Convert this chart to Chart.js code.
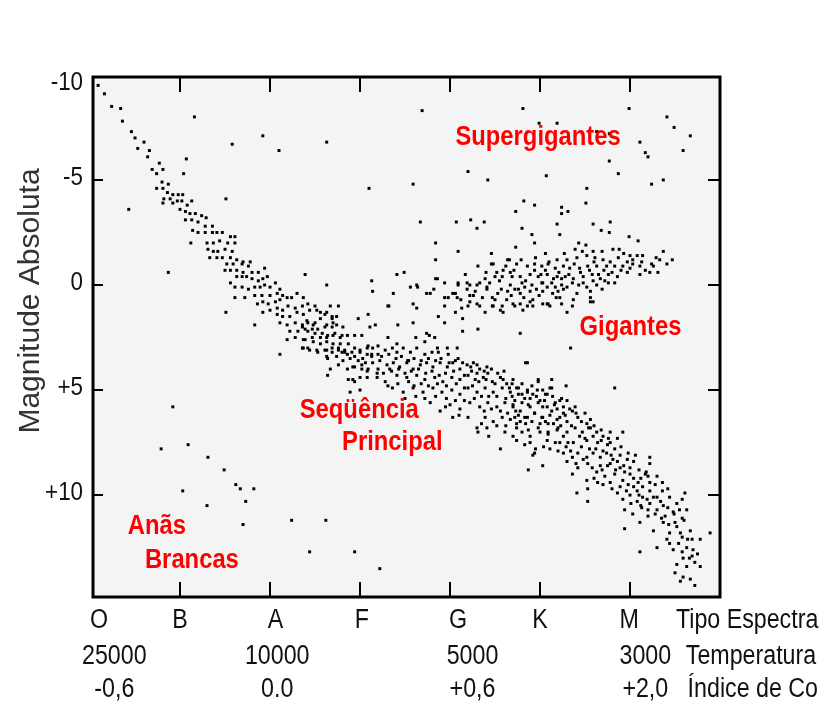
<!DOCTYPE html>
<html>
<head>
<meta charset="utf-8">
<title>Diagrama H-R</title>
<script src="https://cdn.jsdelivr.net/npm/chart.js@4.4.1/dist/chart.umd.min.js"></script>
<style>
  html, body { margin:0; padding:0; background:#fff; }
  canvas { display:block; }
</style>
</head>
<body>
<canvas id="hr" width="819" height="722"></canvas>
<script>
// every star is [spectral subclass, absolute magnitude]
// subclass: O0 = 0, B0 = 10, A0 = 20, F0 = 30, G0 = 40, K0 = 50, M0 = 60

var mainSequence = [
  [0.9,-9.5],[1.6,-9.1],[2.4,-8.5],[3.4,-8.4],[3.6,-7.8],[4.6,-7.3],[5.0,-7.0],[6.0,-6.8],[5.3,-6.5],[6.6,-6.4],
  [6.4,-6.1],[7.7,-5.8],[6.9,-5.5],[8.1,-5.5],[7.4,-5.3],
  [8.0,-4.9],[8.7,-4.8],[7.4,-4.6],[8.1,-4.6],[8.6,-4.4],[9.2,-4.3],[9.8,-4.3],[10.3,-4.3],[8.2,-4.1],[8.9,-4.1],
  [9.7,-4.0],[8.1,-3.9],[9.2,-3.9],[10.0,-3.6],[11.3,-4.0],
  [10.2,-4.0],[10.8,-3.8],[10.6,-3.5],[11.1,-3.4],[11.7,-3.4],[12.4,-3.3],[12.9,-3.2],[10.6,-3.1],[11.3,-3.1],[12.0,-3.0],
  [12.8,-2.8],[13.6,-2.8],[11.4,-2.6],[12.0,-2.5],[12.8,-2.5],[13.6,-2.5],[14.1,-2.5],[14.7,-2.5],[13.0,-2.0],[13.7,-2.0],
  [14.4,-2.1],[15.6,-2.3],[16.1,-2.3],[15.3,-2.0],[16.1,-2.0],[13.1,-1.7],[13.7,-1.6],[14.2,-1.6],[15.0,-1.7],[15.8,-1.6],
  [13.3,-1.3],[14.1,-1.3],[14.7,-1.3],[15.6,-1.3],[16.3,-1.2],[17.0,-1.1],[17.8,-1.1],[15.2,-1.0],[15.9,-1.0],[16.9,-1.0],
  [17.6,-0.9],[15.0,-0.7],[15.6,-0.7],[16.3,-0.7],[17.0,-0.6],[18.0,-0.6],[18.7,-0.6],[19.4,-0.8],[15.6,-0.1],[16.3,-0.4],
  [16.9,-0.4],[17.4,-0.4],[18.0,-0.3],[18.7,-0.2],[19.2,-0.3],[19.7,-0.4],[16.1,0.1],[16.9,0.1],[17.6,0.2],[18.3,0.1],
  [18.9,0.1],[19.4,0.0],[20.0,0.1],[20.6,-0.1],[16.1,0.6],[17.2,0.6],[18.3,0.5],[19.1,0.5],[20.0,0.5],[20.8,0.4],
  [21.1,0.2],[21.4,0.5],[18.6,0.9],[19.2,0.8],[19.8,0.9],[20.6,0.8],[21.1,0.7],[21.9,0.6],[22.4,0.6],[23.0,0.4],
  [23.7,0.6],[19.2,1.3],[20.0,1.2],[20.8,1.1],[21.4,1.2],[22.0,1.0],[22.8,1.1],[23.6,1.0],[24.2,0.9],[20.8,1.4],
  [21.4,1.5],[22.2,1.5],[23.0,1.3],[23.7,1.4],[24.4,1.2],[25.2,1.2],[18.3,1.9],[21.1,1.8],[21.9,1.9],[22.8,1.8],
  [23.6,1.9],[24.2,1.8],[25.0,1.8],[25.6,1.6],[26.1,1.4],[26.9,1.5],[22.2,2.2],[23.1,2.2],[23.9,2.1],[24.7,2.1],
  [25.3,2.1],[26.1,2.0],[26.9,2.0],[27.4,1.9],[28.1,2.0],[21.9,2.6],[22.8,2.5],[23.7,2.6],[24.7,2.5],[25.6,2.5],
  [26.3,2.5],[27.0,2.4],[27.8,2.5],[28.6,2.4],[29.4,2.4],[30.2,2.4],[21.1,3.3],[23.7,3.0],[24.4,3.1],[25.3,3.2],
  [26.3,3.1],[26.9,3.0],[27.6,3.0],[28.3,3.1],[29.1,3.2],[30.0,3.1],[30.8,3.0],[31.4,3.0],[26.3,3.4],[27.4,3.4],
  [28.6,3.3],[29.4,3.4],[30.3,3.5],[31.3,3.4],[32.0,3.3],[26.7,4.0],[27.6,3.8],[28.6,4.0],[29.4,3.9],[30.0,4.4],
  [30.8,4.1],[31.9,4.2],[26.4,4.3],[29.2,4.5],[26.7,1.0],[27.6,1.0],
  [25.0,1.0],[25.6,1.3],[26.3,1.3],[26.9,1.6],[27.4,1.5],[24.1,1.7],[24.8,1.9],[26.3,1.9],[27.0,1.8],[23.6,2.0],
  [24.2,2.2],[25.0,2.3],[25.8,2.3],[26.4,2.4],[27.2,2.3],[28.0,2.4],[23.9,2.6],[24.8,2.7],[25.6,2.8],[26.3,2.7],
  [27.0,2.8],[27.8,2.8],[28.7,2.8],[29.4,3.0],[25.2,3.1],[26.1,3.1],[26.9,3.2],[27.6,3.1],[28.3,3.2],[30.0,3.2],
  [30.8,3.3],[24.2,3.0],[23.6,3.0],[26.4,3.5],[28.1,3.6],[28.9,3.5],[29.8,3.6],[30.6,3.7],[29.2,3.9],[30.2,4.0],
  [30.9,4.0],[28.7,4.5],[29.4,4.6],[30.8,4.4],[28.9,5.1],[30.0,5.0],[30.9,2.9],[28.0,3.2],[30.2,3.8],
  [31.3,3.3],[32.0,2.9],[32.8,3.1],[33.6,3.0],[34.1,3.2],[34.8,3.0],[35.6,3.2],[36.3,3.0],[37.2,3.3],[38.0,3.2],
  [38.7,3.2],[39.8,3.3],[40.9,3.5],[39.7,3.0],[38.6,3.0],
  [31.4,3.7],[32.2,3.6],[33.0,3.8],[33.7,3.7],[34.4,3.9],[35.2,3.7],[35.9,4.0],[36.7,3.8],[37.4,3.7],[38.1,3.9],
  [38.9,3.7],[39.7,3.9],[40.3,3.7],[41.1,4.0],[41.9,3.8],[42.6,3.7],[43.3,4.0],[44.1,3.9],[32.0,4.0],[33.3,4.0],
  [31.9,4.4],[32.8,4.6],[34.1,4.3],[35.2,4.4],[36.3,4.3],[37.2,4.5],[38.3,4.4],[39.2,4.6],[40.2,4.4],[41.1,4.5],
  [42.0,4.3],[42.8,4.5],[43.7,4.4],[44.7,4.6],[45.6,4.4],[46.3,4.7],[44.2,4.2],[43.0,4.2],
  [33.6,4.9],[34.8,5.1],[35.9,4.9],[37.0,5.1],[38.1,4.9],[39.1,5.1],[40.2,5.0],[41.1,5.2],[42.0,4.9],[43.0,5.1],
  [43.9,4.9],[44.8,5.1],[45.8,4.9],[46.7,5.1],[37.8,5.6],
  [38.9,6.0],[40.0,5.7],[41.1,5.9],[42.2,5.6],[43.3,5.8],[44.2,5.6],[45.2,5.8],[46.1,5.6],
  [40.3,6.3],[43.0,6.8],[43.9,6.3],[44.8,6.5],[45.8,6.3],[46.7,6.4],[43.1,7.0],[45.6,7.8],[44.1,6.8],[49.4,8.0],
  [32.4,3.4],[33.2,3.3],[34.0,3.5],[34.6,3.4],[35.4,3.6],[36.0,3.5],[36.8,3.6],[37.6,3.5],[38.4,3.6],[39.0,3.5],
  [39.9,3.7],[40.6,3.6],[41.4,3.7],[42.3,3.9],[43.0,3.8],[43.8,4.1],[44.6,4.0],[45.3,4.2],[46.0,4.1],
  [32.6,4.2],[33.5,4.1],[34.3,4.0],[35.0,4.2],[35.7,4.1],[36.5,4.0],[37.3,4.2],[38.0,4.1],[38.8,4.3],[39.5,4.2],
  [40.4,4.1],[41.6,4.3],[42.4,4.1],[43.2,4.6],[44.0,4.5],[45.0,4.7],[45.9,4.5],[46.6,4.9],
  [33.1,4.8],[34.2,4.7],[35.4,4.6],[36.0,4.8],[36.8,4.7],[37.6,4.8],[38.6,4.7],[39.6,4.8],[40.7,4.7],[41.6,4.9],
  [42.5,4.8],[43.5,5.3],[44.3,5.3],[45.2,5.3],[46.2,5.4],[47.2,5.5],
  [35.0,5.4],[36.2,5.3],[37.2,5.4],[38.4,5.3],[39.6,5.4],[40.6,5.5],[41.6,5.5],[42.7,5.4],[43.8,6.0],[44.6,5.9],
  [45.6,6.0],[46.4,6.1],[47.3,6.0],[39.5,5.8],[41.0,6.2],[42.0,6.3],[43.5,6.6],[45.2,6.7],[46.2,6.7],[47.4,6.6],
  [44.3,7.2],[46.1,7.0],
  [47.0,4.5],[47.6,4.9],[48.6,5.1],[49.7,5.0],[50.6,5.2],[51.3,4.9],[47.0,5.7],[48.0,5.6],[48.9,5.8],[49.8,5.6],
  [50.8,5.8],[51.7,5.6],[52.6,5.8],[53.0,5.5],[47.6,6.2],[48.6,6.3],[49.4,6.1],[50.3,6.3],[51.3,6.0],[52.2,6.3],
  [53.0,6.5],[50.9,6.6],[48.0,7.0],[48.9,7.2],[50.0,7.0],[50.9,7.1],[51.9,6.9],[52.6,7.2],[51.7,7.5],[53.1,7.5],
  [47.0,7.2],
  [46.9,4.7],[47.4,4.9],[48.0,4.7],[48.6,5.0],[49.1,4.8],[49.8,4.6],[50.3,5.0],[51.1,4.9],[51.4,5.3],[46.9,5.3],
  [47.6,5.2],[48.3,5.4],[49.2,5.2],[50.0,5.5],[50.8,5.2],[52.2,5.5],[51.3,4.5],[52.6,6.1],
  [47.0,5.8],[47.8,6.0],[48.7,5.7],[49.4,6.1],[50.3,5.8],[51.1,6.2],[51.9,5.9],[52.8,6.2],[53.6,6.0],[54.2,6.3],
  [55.0,6.1],[55.6,6.4],[47.2,6.3],[48.3,6.3],[50.2,6.3],[51.9,6.4],[53.9,5.8],[55.2,6.6],
  [47.4,6.8],[48.7,6.9],[49.8,6.8],[50.9,7.0],[52.0,6.8],[53.0,7.0],[53.9,6.8],[54.7,7.0],[55.6,6.8],[56.3,7.0],
  [57.0,7.2],[57.8,7.0],[58.6,7.3],[47.4,7.4],[48.9,7.5],[50.8,7.4],[52.2,7.5],[53.7,7.5],[55.2,7.4],[56.4,7.5],
  [57.8,7.5],[59.2,7.0],
  [49.2,8.1],[50.3,8.6],[52.6,8.0],[53.6,8.2],[54.2,8.0],[55.2,8.2],[55.9,8.0],[56.7,8.2],[57.4,8.0],[58.1,8.3],
  [58.9,8.1],[59.7,8.3],[54.2,8.7],[55.3,8.5],[56.7,8.6],[57.8,8.5],[58.9,8.7],[60.0,8.7],[62.2,8.2],[62.2,8.5],
  [48.7,8.8],
  [53.6,9.0],[55.2,9.3],[56.3,8.9],[57.2,9.1],[58.3,9.0],[59.2,9.3],[60.0,9.0],[60.9,9.4],[61.7,9.0],[62.2,9.4],
  [63.0,9.1],[57.8,9.4],[59.8,9.5],[61.4,9.6],[54.1,9.9],[55.3,9.7],[56.4,9.4],
  [58.6,9.9],[59.2,10.2],[60.0,10.0],[60.8,10.3],[61.4,10.1],[62.2,10.4],[63.0,10.1],[63.7,10.5],[64.4,10.1],[65.2,10.4],
  [66.1,9.9],[55.3,10.3],[63.6,9.8],[62.2,9.8],[60.8,9.8],[65.8,10.2],
  [59.4,10.7],[60.3,10.9],[61.3,10.6],[62.0,11.0],[63.0,10.7],[63.9,11.0],[64.8,10.8],[65.8,11.1],[66.3,10.7],[59.4,11.6],
  [61.1,11.3],[62.6,11.7],[63.7,11.3],[65.2,11.5],[66.7,11.7],
  [63.0,12.5],[64.1,12.1],[64.8,12.6],[65.8,12.0],[66.3,12.5],[66.9,12.1],[67.8,12.1],[68.9,11.8],[61.1,12.7],[64.4,11.8],
  [65.9,13.0],[66.9,12.9],[65.2,13.3],[66.3,13.4],[67.2,13.2],[67.8,13.4],[65.0,13.7],[65.9,13.9],[66.7,14.0],[65.6,14.1],
  [67.2,14.3],
  [48.0,5.2],[48.9,5.4],[49.6,5.3],[50.5,5.5],[51.6,5.7],[52.4,5.4],[53.3,5.9],[54.0,6.1],[54.6,6.5],[55.4,6.8],
  [56.0,6.7],[56.8,6.9],[57.6,7.3],
  [47.8,6.5],[48.4,6.6],[49.1,6.5],[50.0,6.6],[50.6,6.5],[51.5,6.6],[52.3,6.7],[53.5,6.7],[54.4,7.2],[55.0,7.3],
  [55.9,7.2],[56.8,7.4],[57.5,7.6],[58.3,7.8],[59.0,7.7],[59.8,8.0],[60.6,8.1],
  [48.3,7.6],[49.5,7.8],[50.4,7.7],[51.1,7.8],[52.0,7.9],[52.9,7.7],[53.4,7.9],[54.6,7.7],[55.5,7.8],[56.2,7.8],
  [57.0,7.9],[57.9,8.1],[58.6,8.4],[59.3,8.6],[60.4,8.4],[61.0,8.8],[61.8,8.9],
  [53.0,8.4],[54.0,8.5],[54.8,8.3],[55.8,8.7],[56.9,8.8],[57.5,8.6],[58.4,8.8],[59.4,8.9],[60.4,9.2],[61.2,9.2],
  [62.0,9.1],[62.8,9.5],[63.6,9.4],[64.2,9.7],
  [56.0,9.2],[57.0,9.5],[58.0,9.7],[58.9,9.6],[59.6,9.8],[60.4,9.6],[61.0,10.0],[61.9,10.2],[62.6,10.1],[63.4,10.3],
  [64.2,10.6],[64.9,10.9],[65.5,10.7],[66.0,11.2],
  [60.1,10.4],[61.2,10.5],[62.0,10.7],[62.8,10.9],[63.5,11.1],[64.3,11.4],[65.0,11.3],[65.6,11.8],[66.4,12.1],[67.0,12.6],
  [65.4,12.3],[64.4,12.3],[66.6,13.0],[67.5,12.8],[65.8,12.7]
];

var giants = [
  [38.4,-0.3],[38.2,0.2],[39.4,-0.1],[41.7,-0.5],[43.1,-0.9],[44.8,-1.0],[45.2,-0.6],[45.8,-0.4],[46.6,-1.2],
  [54.3,-2.0],[55.1,-1.9],
  [53.9,-1.7],[54.7,-1.6],[55.9,-1.6],[56.9,-1.6],[58.1,-1.7],[58.8,-1.7],[59.3,-1.5],[60.0,-1.4],[60.8,-1.4],
  [61.4,-1.4],[63.7,-1.6],[52.7,-1.5],
  [47.4,-1.0],[44.6,-1.0],[49.4,-1.0],[50.9,-1.0],[51.9,-1.2],[53.0,-1.2],[54.1,-1.3],[55.2,-1.4],[56.1,-1.3],[57.0,-1.2],
  [57.8,-1.1],[58.7,-1.3],[59.7,-1.1],[60.3,-1.2],[61.3,-1.1],[62.4,-1.0],[63.3,-1.2],[64.1,-1.0],
  [45.9,-0.7],[46.7,-0.6],[48.6,-0.9],[49.4,-0.7],[50.2,-0.9],[50.6,-0.7],[51.7,-0.8],[52.6,-0.9],[53.3,-0.8],[54.4,-0.8],
  [55.3,-0.9],[56.3,-0.9],[57.4,-0.9],[58.3,-0.9],[59.2,-0.9],[60.3,-1.0],[61.1,-0.9],[62.6,-0.9],[63.1,-0.6],
  [45.0,-0.4],[46.9,-0.4],[47.8,-0.4],[48.9,-0.5],[49.8,-0.4],[50.8,-0.5],[51.9,-0.4],[52.8,-0.4],[53.7,-0.3],[54.8,-0.4],
  [55.8,-0.5],[56.7,-0.3],[57.6,-0.5],[58.6,-0.4],[59.7,-0.6],[61.1,-0.5],[62.2,-0.6],
  [40.9,-0.1],[42.2,0.0],[43.3,-0.1],[44.4,-0.1],[46.7,0.0],[48.0,-0.1],[49.1,0.0],[50.2,-0.1],[51.3,-0.1],[52.4,0.0],
  [53.6,-0.1],[54.8,-0.1],[55.9,-0.2],[57.2,-0.2],[58.3,-0.1],
  [37.4,0.4],[39.4,0.6],[40.6,0.4],[41.9,0.2],[42.6,0.5],[44.1,0.2],[45.3,0.4],[46.4,0.3],[47.8,0.4],[48.9,0.3],
  [50.3,0.3],[51.4,0.4],[52.6,0.2],[54.1,0.4],[55.6,0.3],[56.9,0.2],
  [39.4,1.0],[40.8,0.6],[42.2,0.8],[43.6,0.6],[44.8,1.0],[46.3,0.7],[47.8,0.9],[49.2,0.7],[50.9,0.9],[52.2,0.6],
  [53.7,0.7],[55.6,0.6],[55.9,0.8],
  [44.0,-0.6],[45.5,-0.2],[46.2,-0.9],[47.1,-0.7],[47.9,-1.2],[48.4,-0.2],[49.5,-1.3],[50.1,-0.5],[51.0,-1.1],[51.5,-0.3],
  [52.1,-0.6],[53.2,-0.5],[53.8,-1.0],[54.5,-0.6],[55.5,-0.7],[56.0,-1.1],[56.5,-0.5],[57.1,-0.7],[58.0,-0.6],[59.0,-0.7],
  [60.0,-0.8],[61.7,-0.7],[62.9,-1.3],[64.7,-1.2],
  [42.8,0.3],[43.9,-0.3],[45.7,0.2],[47.2,0.2],[48.3,0.1],[49.6,0.2],[50.8,0.1],[52.0,0.3],[53.0,0.1],[54.3,0.0],
  [55.2,0.1],[56.3,0.0],[57.6,-0.1],[41.2,0.7],[43.0,0.9],[45.0,0.7],[46.8,0.5],[48.2,0.6],[49.9,0.5],[51.8,0.6],
  [47.8,2.3],[48.6,3.7],[43.1,2.1],[41.4,2.2],[37.7,2.4],[40.8,3.0],[35.9,1.8],[38.7,1.5],[39.4,1.8],[33.1,1.0],
  [34.2,1.9],[35.9,0.9],[36.4,0.1],[37.8,0.4],[38.6,-0.3],[39.8,0.6],[40.3,0.4],[40.9,0.0],[41.9,-0.1],[42.2,0.5],
  [43.0,0.0],[44.1,0.1],[44.7,0.6],[45.8,1.0],[45.9,1.3],[47.0,0.9],[47.6,0.2],[48.6,1.0],[50.8,0.9],[50.3,-0.1],
  [51.7,0.1],[52.4,-0.3],
  [33.2,1.0],[36.3,1.1],[40.6,1.3],[41.3,1.1],[42.0,1.0],[43.3,1.0],[43.9,1.3],[44.7,1.0],[45.6,1.2],[41.4,1.6],
  [37.4,2.3],[38.3,2.5],[37.2,2.7],[36.2,2.5],[31.7,1.9],[31.1,2.0],[29.8,1.6],[30.9,1.4],[33.1,2.5],[34.1,2.8],
  [35.3,3.6],
  [48.1,1.2],[49.2,1.0],[51.1,1.0],[52.4,0.9],[53.6,1.0],[55.6,0.8],[47.2,1.0],[48.9,0.8],[50.3,0.9],[53.0,1.3],
  [53.4,3.0],[48.4,3.7],[58.3,4.9],[52.9,4.8],[49.8,4.5]
];

var upperStars = [
  [11.6,-8.0],[15.8,-6.7],[19.2,-7.1],[21.0,-6.4],[10.7,-6.0],[10.4,-5.3],[15.1,-4.1],[4.3,-3.6],[11.2,-2.0],[8.7,-0.6],
  [36.9,-8.3],[26.3,-6.8],[31.0,-4.6],[35.9,-4.8],[42.0,-5.4],[44.2,-5.0],[36.7,-3.0],[40.7,-3.0],[42.3,-3.1],[43.8,-3.0],
  [43.0,-2.7],[38.4,-2.0],[40.9,-1.6],[38.4,-1.2],[44.6,-1.5],[46.4,-1.2],[23.9,-0.5],[26.3,0.0],[31.3,-0.2],[31.4,0.3],
  [34.1,-0.5],[34.9,-0.6],[33.7,0.4],[35.6,0.1],[36.3,0.0],
  [48.1,-8.4],[49.9,-7.7],[51.9,-7.7],[59.9,-8.4],[64.1,-8.0],[64.9,-7.5],[66.7,-7.1],[56.3,-7.3],[57.7,-7.2],[61.1,-6.8],
  [61.7,-6.3],[62.0,-6.1],[65.9,-6.4],[57.7,-5.9],[58.7,-5.3],[50.7,-5.2],[63.7,-5.0],[62.4,-4.8],[55.2,-4.6],[55.1,-3.9],
  [48.2,-4.0],[49.4,-3.8],[47.3,-3.5],[52.4,-3.7],[52.4,-3.4],[53.1,-3.5],[48.0,-2.7],[49.1,-2.4],[51.9,-2.9],[52.2,-2.4],
  [55.9,-2.9],[56.8,-2.6],[57.8,-3.0],[57.7,-2.5],[59.9,-2.3],[60.9,-2.1],[49.4,-2.0],[47.3,-1.8],[50.6,-1.5],
  [15.1,1.3]
];

var whiteDwarfs = [
  [9.2,5.8],[7.9,7.8],[10.9,7.6],[13.1,8.2],[14.9,8.8],[16.2,9.5],[16.7,9.7],[18.2,9.7],[17.3,10.3],[10.3,9.8],
  [13.0,10.5],[17.0,11.4],[22.4,11.2],[26.2,11.2],[24.4,12.7],[29.4,12.7],[32.2,13.5]
];

// axis ticks and the three label rows under the frame
var classTicks = [10, 20, 30, 40, 50, 60];
var spectralLabels = ['O', 'B', 'A', 'F', 'G', 'K', 'M'];
var spectralPos = [1.0, 10, 20.6, 30.2, 40.9, 50, 59.9];
var tempLabels = ['25000', '10000', '5000', '3000'];
var colorLabels = ['-0,6', '0.0', '+0,6', '+2,0'];
var tempPos = [2.7, 20.8, 42.5, 61.7];
var magTicks = [-10, -5, 0, 5, 10];
var magLabels = ['-10', '-5', '0', '+5', '+10'];
var rowTitles = ['Tipo Espectral', 'Temperatura', 'Índice de Cor'];
var rowTitlePos = [65.1, 66.2, 66.4];

// region names written inside the frame (left edge, vertical middle)
var regionText = ['Supergigantes', 'Gigantes', 'Seqüência', 'Principal', 'Anãs', 'Brancas'];
var regionX = [40.6, 54.4, 23.3, 28.0, 4.2, 6.1];
var regionY = [-7.05, 2.0, 5.95, 7.5, 11.5, 13.1];

var FAMILY = '"Liberation Sans", Arial, sans-serif';

function squeezedText(ctx, text, x, y, squeeze) {
  ctx.save();
  ctx.translate(x, y);
  ctx.scale(squeeze, 1);
  ctx.fillText(text, 0, 0);
  ctx.restore();
}

var hrFrame = {
  id: 'hrFrame',
  beforeDatasetsDraw: function(chart) {
    var a = chart.chartArea, ctx = chart.ctx;
    ctx.save();
    ctx.fillStyle = '#f4f4f4';
    ctx.fillRect(a.left, a.top, a.right - a.left, a.bottom - a.top);
    ctx.restore();
  },
  afterDatasetsDraw: function(chart) {
    var a = chart.chartArea, ctx = chart.ctx;
    var xs = chart.scales.x, ys = chart.scales.y;
    ctx.save();

    // inward tick marks
    ctx.strokeStyle = '#000';
    ctx.lineWidth = 2;
    classTicks.forEach(function(v) {
      var px = Math.round(xs.getPixelForValue(v));
      ctx.beginPath();
      ctx.moveTo(px, a.top); ctx.lineTo(px, a.top + 15);
      ctx.moveTo(px, a.bottom); ctx.lineTo(px, a.bottom - 15);
      ctx.stroke();
    });
    magTicks.forEach(function(v) {
      if (v <= ys.min || v >= ys.max) return;
      var py = Math.round(ys.getPixelForValue(v));
      ctx.beginPath();
      ctx.moveTo(a.left, py); ctx.lineTo(a.left + 10, py);
      ctx.moveTo(a.right, py); ctx.lineTo(a.right - 12, py);
      ctx.stroke();
    });
    ctx.lineWidth = 3;
    ctx.strokeRect(a.left, a.top, a.right - a.left, a.bottom - a.top);

    // region names
    ctx.fillStyle = '#ff0000';
    ctx.font = 'bold 28px ' + FAMILY;
    ctx.textAlign = 'left';
    ctx.textBaseline = 'middle';
    regionText.forEach(function(t, i) {
      squeezedText(ctx, t, xs.getPixelForValue(regionX[i]), ys.getPixelForValue(regionY[i]), 0.85);
    });
    ctx.restore();
  },
  afterDraw: function(chart) {
    var a = chart.chartArea, ctx = chart.ctx;
    var xs = chart.scales.x, ys = chart.scales.y;
    ctx.save();
    ctx.fillStyle = '#111';
    ctx.textBaseline = 'middle';

    // magnitude labels
    ctx.font = '26px ' + FAMILY;
    ctx.textAlign = 'right';
    magTicks.forEach(function(v, i) {
      var py = Math.max(ys.getPixelForValue(v) - 2, a.top + 6);
      squeezedText(ctx, magLabels[i], a.left - 10, py, 0.86);
    });

    // spectral type, temperature and colour index rows
    ctx.font = '27px ' + FAMILY;
    ctx.textAlign = 'center';
    var rowY = [a.bottom + 24, a.bottom + 60, a.bottom + 93];
    spectralLabels.forEach(function(t, i) {
      squeezedText(ctx, t, xs.getPixelForValue(spectralPos[i]), rowY[0], 0.86);
    });
    tempLabels.forEach(function(t, i) {
      squeezedText(ctx, t, xs.getPixelForValue(tempPos[i]), rowY[1], 0.86);
      squeezedText(ctx, colorLabels[i], xs.getPixelForValue(tempPos[i]), rowY[2], 0.86);
    });
    ctx.textAlign = 'left';
    rowTitles.forEach(function(t, i) {
      squeezedText(ctx, t, xs.getPixelForValue(rowTitlePos[i]), rowY[i], 0.86);
    });

    // vertical axis title
    ctx.fillStyle = '#333';
    ctx.font = '30px ' + FAMILY;
    ctx.textAlign = 'center';
    ctx.translate(31, 301);
    ctx.rotate(-Math.PI / 2);
    ctx.fillText('Magnitude Absoluta', 0, 0);
    ctx.restore();
  }
};

function starSet(label, stars) {
  return {
    label: label,
    data: stars.map(function(s) { return { x: s[0], y: s[1] }; }),
    pointStyle: 'rect',
    pointRadius: 2.1,
    backgroundColor: '#000',
    borderWidth: 0
  };
}

new Chart(document.getElementById('hr'), {
  type: 'scatter',
  data: {
    datasets: [
      starSet('Seqüência Principal', mainSequence),
      starSet('Gigantes', giants),
      starSet('Supergigantes', upperStars),
      starSet('Anãs Brancas', whiteDwarfs)
    ]
  },
  options: {
    responsive: false,
    animation: false,
    devicePixelRatio: 1,
    layout: { padding: { left: 93, top: 77, right: 99, bottom: 125 } },
    plugins: { legend: { display: false }, tooltip: { enabled: false } },
    scales: {
      x: { type: 'linear', display: false, min: 0.33, max: 70 },
      y: { type: 'linear', display: false, reverse: true, min: -9.9, max: 14.85 }
    }
  },
  plugins: [hrFrame]
});
</script>
</body>
</html>
